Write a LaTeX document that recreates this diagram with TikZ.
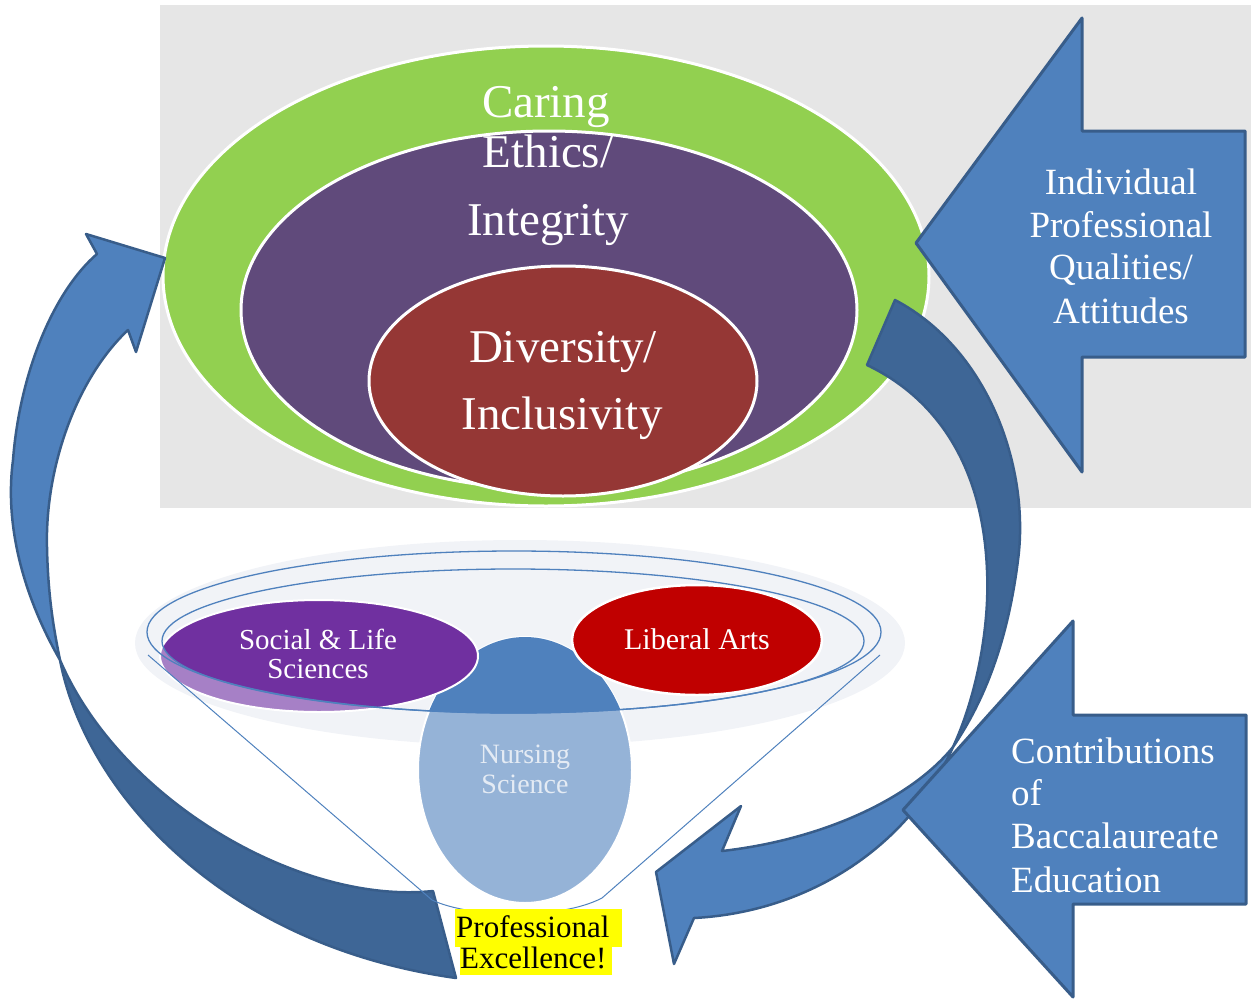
\documentclass[tikz,border=0pt]{standalone}
\usepackage{fontspec}
\setmainfont{Liberation Serif}
\definecolor{bggray}{HTML}{E6E6E6}
\definecolor{cgreen}{HTML}{92D050}
\definecolor{cpurple}{HTML}{604A7B}
\definecolor{cred}{HTML}{953735}
\definecolor{ablue}{HTML}{4F81BD}
\definecolor{aborder}{HTML}{385D8A}
\definecolor{adark}{HTML}{3E6696}
\definecolor{violet}{HTML}{7030A0}
\definecolor{violetlight}{HTML}{A680C6}
\definecolor{libred}{HTML}{C00000}
\definecolor{nurslight}{HTML}{95B3D7}
\definecolor{glowc}{HTML}{F1F3F7}
\definecolor{rimc}{HTML}{4F81BD}
\definecolor{nurstext}{HTML}{E4EBF4}
\definecolor{hilite}{HTML}{FFFF00}
\tikzset{
  ring/.style={draw=white, line width=3pt},
  bigtext/.style={text=white, font=\fontsize{47}{56}\selectfont, anchor=base, inner sep=0pt},
  arrowtext/.style={text=white, font=\fontsize{37}{43}\selectfont, inner sep=0pt},
  blockarrow/.style={fill=ablue, draw=aborder, line width=3pt, line join=round},
  bandedge/.style={draw=aborder, line width=2.5pt, line join=round},
  rimline/.style={draw=rimc, line width=1.3pt},
  smalltext/.style={text=white, font=\fontsize{29}{30}\selectfont, anchor=base, inner sep=0pt},
  excltext/.style={text=black, font=\fontsize{31}{31}\selectfont, anchor=base west, inner sep=0pt},
}
\begin{document}
\begin{tikzpicture}[x=1pt,y=-1pt]
\useasboundingbox (0,0) rectangle (1251,999);
% background panel
\fill[bggray] (160,5) rectangle (1251,508);
% nested ellipses
\path[ring, fill=cgreen] (546,276) ellipse [x radius=383pt, y radius=230pt];
\path[ring, fill=cpurple] (549,310) ellipse [x radius=308pt, y radius=179pt];
\path[ring, fill=cred] (563,381) ellipse [x radius=194pt, y radius=115pt];
\node[bigtext] (caring) at (546,117) {Caring};
\node[bigtext] (ethics) at (548,167) {Ethics/};
\node[bigtext] (integrity) at (548,235) {Integrity};
\node[bigtext] (diversity) at (563,362) {Diversity/};
\node[bigtext] (inclusivity) at (562,429) {Inclusivity};
% Individual arrow
\draw[blockarrow] (916,243) -- (1082,18) -- (1082,131) -- (1245,131) -- (1245,357) -- (1082,357) -- (1082,472) -- cycle;
\node[arrowtext, anchor=base] (ind1) at (1121,194) {Individual};
\node[arrowtext, anchor=base] (ind2) at (1121,237) {Professional};
\node[arrowtext, anchor=base] (ind3) at (1121,279) {Qualities/};
\node[arrowtext, anchor=base] (ind4) at (1121,323) {Attitudes};
% left curved arrow: front (light) part with head
\path[fill=ablue, bandedge] (60,660) .. controls (20,590) and (5,520) .. (13,460) .. controls (20,370) and (55,290) .. (97,254) -- (86,234) -- (165,258) -- (136,352) -- (128,330) .. controls (75,380) and (45,470) .. (47,547) .. controls (48,600) and (55,635) .. (60,660) -- cycle;
% left curved arrow: back (dark) part
\path[fill=adark, bandedge] (60,660) .. controls (85,790) and (220,945) .. (456,978) -- (433,891) .. controls (300,905) and (120,800) .. (60,660) -- cycle;
% right curved arrow: back (dark) part
\path[fill=adark, bandedge] (895,300) .. controls (990,350) and (1030,470) .. (1018,560) .. controls (1008,640) and (985,700) .. (953,747) .. controls (975,700) and (990,630) .. (987,570) .. controls (983,470) and (940,400) .. (867,365) -- cycle;
% right curved arrow: front (light) part with head
\path[fill=ablue, bandedge] (953,747) .. controls (910,845) and (810,912) .. (694,918) -- (674,964) -- (656,872) -- (741,806) -- (722,851) .. controls (820,840) and (910,800) .. (953,747) -- cycle;
% Contributions arrow
\draw[blockarrow] (903,810) -- (1073,621) -- (1073,715) -- (1246,715) -- (1246,904) -- (1073,904) -- (1073,997) -- cycle;
\node[arrowtext, anchor=base west] (con1) at (1011,763) {Contributions};
\node[arrowtext, anchor=base west] (con2) at (1011,805) {of};
\node[arrowtext, anchor=base west] (con3) at (1011,848) {Baccalaureate};
\node[arrowtext, anchor=base west] (con4) at (1011,892) {Education};
% funnel
\fill[glowc] (520,643) ellipse [x radius=385pt, y radius=103pt];
\path[fill=nurslight, draw=white, line width=2pt] (525,770) ellipse [x radius=107pt, y radius=133pt];
\begin{scope}
  \clip (513,641) ellipse [x radius=351pt, y radius=72pt];
  \fill[ablue] (525,770) ellipse [x radius=107pt, y radius=133pt];
\end{scope}
\fill[violetlight] (319,656) ellipse [x radius=159pt, y radius=56pt];
\begin{scope}
  \clip (513,641) ellipse [x radius=351pt, y radius=72pt];
  \fill[violet] (319,656) ellipse [x radius=159pt, y radius=56pt];
\end{scope}
\draw[white, line width=2pt] (319,656) ellipse [x radius=159pt, y radius=56pt];
\path[fill=libred, draw=white, line width=2.5pt] (697,640) ellipse [x radius=125pt, y radius=55pt];
\draw[rimline] (514,632) ellipse [x radius=367pt, y radius=81pt];
\draw[rimline] (513,641) ellipse [x radius=351pt, y radius=72pt];
\draw[rimline, line width=1pt, line join=round] (148,655) -- (432,900) .. controls (470,918) and (560,920) .. (602,898) -- (880,655);
\node[smalltext] (soc1) at (318,649) {Social \& Life};
\node[smalltext] (soc2) at (318,678) {Sciences};
\node[smalltext, font=\fontsize{30}{30}\selectfont] (lib) at (697,649) {Liberal Arts};
\node[smalltext, text=nurstext, font=\fontsize{28}{30}\selectfont] (nurs1) at (525,763) {Nursing};
\node[smalltext, text=nurstext, font=\fontsize{28}{30}\selectfont] (nurs2) at (525,793) {Science};
% Professional Excellence
\fill[hilite] (455,909) rectangle (622,947);
\fill[hilite] (460,947) rectangle (612,975);
\node[excltext] (pro1) at (456,937) {Professional};
\node[excltext] (pro2) at (460,968) {Excellence!};
\end{tikzpicture}
\end{document}
